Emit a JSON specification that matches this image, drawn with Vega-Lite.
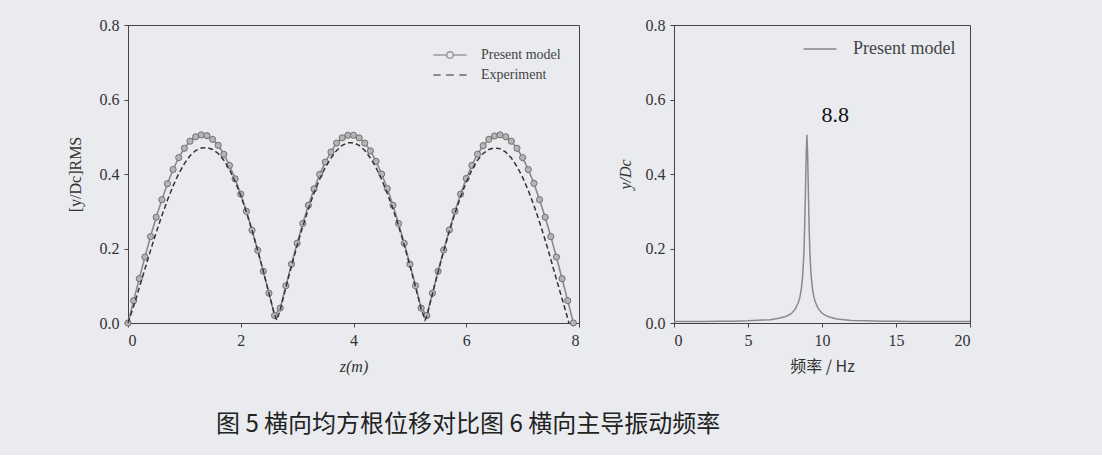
{
  "$schema": "https://vega.github.io/schema/vega-lite/v6.json",
  "background": "#e9ebef",
  "padding": {"left": 66, "top": 16, "right": 130, "bottom": 18},
  "title": {"text": "图 5 横向均方根位移对比图 6 横向主导振动频率", "orient": "bottom", "anchor": "start", "frame": "group", "font": "Noto Sans CJK SC", "fontSize": 24, "fontWeight": "normal", "color": "#222222", "offset": 38, "dx": 88},
  "datasets": {
    "model": [
      {"z": 0.0, "v": 0.0}, {"z": 0.1, "v": 0.06}, {"z": 0.2, "v": 0.119}, {"z": 0.3, "v": 0.177}, {"z": 0.4, "v": 0.232},
      {"z": 0.5, "v": 0.284}, {"z": 0.6, "v": 0.331}, {"z": 0.7, "v": 0.374}, {"z": 0.8, "v": 0.412}, {"z": 0.9, "v": 0.444},
      {"z": 1.0, "v": 0.469}, {"z": 1.1, "v": 0.488}, {"z": 1.2, "v": 0.5}, {"z": 1.3, "v": 0.505}, {"z": 1.4, "v": 0.503},
      {"z": 1.5, "v": 0.493}, {"z": 1.6, "v": 0.477}, {"z": 1.7, "v": 0.453}, {"z": 1.8, "v": 0.423}, {"z": 1.9, "v": 0.387},
      {"z": 2.0, "v": 0.346}, {"z": 2.1, "v": 0.3}, {"z": 2.2, "v": 0.249}, {"z": 2.3, "v": 0.195}, {"z": 2.4, "v": 0.139},
      {"z": 2.5, "v": 0.08}, {"z": 2.6, "v": 0.02}, {"z": 2.7, "v": 0.04}, {"z": 2.8, "v": 0.1}, {"z": 2.9, "v": 0.158},
      {"z": 3.0, "v": 0.214}, {"z": 3.1, "v": 0.267}, {"z": 3.2, "v": 0.316}, {"z": 3.3, "v": 0.36}, {"z": 3.4, "v": 0.399},
      {"z": 3.5, "v": 0.432}, {"z": 3.6, "v": 0.459}, {"z": 3.7, "v": 0.483}, {"z": 3.8, "v": 0.497}, {"z": 3.9, "v": 0.504},
      {"z": 4.0, "v": 0.504}, {"z": 4.1, "v": 0.497}, {"z": 4.2, "v": 0.483}, {"z": 4.3, "v": 0.462}, {"z": 4.4, "v": 0.434},
      {"z": 4.5, "v": 0.4}, {"z": 4.6, "v": 0.361}, {"z": 4.7, "v": 0.316}, {"z": 4.8, "v": 0.267}, {"z": 4.9, "v": 0.214},
      {"z": 5.0, "v": 0.158}, {"z": 5.1, "v": 0.1}, {"z": 5.2, "v": 0.04}, {"z": 5.3, "v": 0.02}, {"z": 5.4, "v": 0.08},
      {"z": 5.5, "v": 0.139}, {"z": 5.6, "v": 0.196}, {"z": 5.7, "v": 0.25}, {"z": 5.8, "v": 0.3}, {"z": 5.9, "v": 0.346},
      {"z": 6.0, "v": 0.388}, {"z": 6.1, "v": 0.423}, {"z": 6.2, "v": 0.453}, {"z": 6.3, "v": 0.476}, {"z": 6.4, "v": 0.493},
      {"z": 6.5, "v": 0.502}, {"z": 6.6, "v": 0.505}, {"z": 6.7, "v": 0.5}, {"z": 6.8, "v": 0.488}, {"z": 6.9, "v": 0.469},
      {"z": 7.0, "v": 0.444}, {"z": 7.1, "v": 0.412}, {"z": 7.2, "v": 0.375}, {"z": 7.3, "v": 0.331}, {"z": 7.4, "v": 0.284},
      {"z": 7.5, "v": 0.232}, {"z": 7.6, "v": 0.177}, {"z": 7.7, "v": 0.119}, {"z": 7.8, "v": 0.06}, {"z": 7.9, "v": 0.0}
    ],
    "exp": [
      {"z": 0.0, "v": 0.0}, {"z": 0.1, "v": 0.045}, {"z": 0.2, "v": 0.095}, {"z": 0.3, "v": 0.145}, {"z": 0.4, "v": 0.195},
      {"z": 0.5, "v": 0.243}, {"z": 0.6, "v": 0.288}, {"z": 0.7, "v": 0.33}, {"z": 0.8, "v": 0.368}, {"z": 0.9, "v": 0.401},
      {"z": 1.0, "v": 0.428}, {"z": 1.1, "v": 0.449}, {"z": 1.2, "v": 0.463}, {"z": 1.3, "v": 0.47}, {"z": 1.4, "v": 0.471},
      {"z": 1.5, "v": 0.466}, {"z": 1.6, "v": 0.455}, {"z": 1.7, "v": 0.437}, {"z": 1.8, "v": 0.412}, {"z": 1.9, "v": 0.38},
      {"z": 2.0, "v": 0.342}, {"z": 2.1, "v": 0.298}, {"z": 2.2, "v": 0.249}, {"z": 2.3, "v": 0.195}, {"z": 2.4, "v": 0.139},
      {"z": 2.5, "v": 0.08}, {"z": 2.6, "v": 0.022}, {"z": 2.64, "v": 0.008}, {"z": 2.7, "v": 0.035}, {"z": 2.8, "v": 0.095},
      {"z": 2.9, "v": 0.153}, {"z": 3.0, "v": 0.208}, {"z": 3.1, "v": 0.259}, {"z": 3.2, "v": 0.306}, {"z": 3.3, "v": 0.349},
      {"z": 3.4, "v": 0.386}, {"z": 3.5, "v": 0.418}, {"z": 3.6, "v": 0.443}, {"z": 3.7, "v": 0.463}, {"z": 3.8, "v": 0.477},
      {"z": 3.9, "v": 0.484}, {"z": 4.0, "v": 0.484}, {"z": 4.1, "v": 0.477}, {"z": 4.2, "v": 0.463}, {"z": 4.3, "v": 0.443},
      {"z": 4.4, "v": 0.417}, {"z": 4.5, "v": 0.385}, {"z": 4.6, "v": 0.348}, {"z": 4.7, "v": 0.306}, {"z": 4.8, "v": 0.26},
      {"z": 4.9, "v": 0.209}, {"z": 5.0, "v": 0.154}, {"z": 5.1, "v": 0.097}, {"z": 5.2, "v": 0.038}, {"z": 5.27, "v": 0.008},
      {"z": 5.3, "v": 0.018}, {"z": 5.4, "v": 0.078}, {"z": 5.5, "v": 0.137}, {"z": 5.6, "v": 0.193}, {"z": 5.7, "v": 0.246},
      {"z": 5.8, "v": 0.295}, {"z": 5.9, "v": 0.339}, {"z": 6.0, "v": 0.378}, {"z": 6.1, "v": 0.411}, {"z": 6.2, "v": 0.437},
      {"z": 6.3, "v": 0.455}, {"z": 6.4, "v": 0.466}, {"z": 6.5, "v": 0.47}, {"z": 6.6, "v": 0.468}, {"z": 6.7, "v": 0.459},
      {"z": 6.8, "v": 0.443}, {"z": 6.9, "v": 0.42}, {"z": 7.0, "v": 0.391}, {"z": 7.1, "v": 0.356}, {"z": 7.2, "v": 0.316},
      {"z": 7.3, "v": 0.271}, {"z": 7.4, "v": 0.223}, {"z": 7.5, "v": 0.171}, {"z": 7.6, "v": 0.117}, {"z": 7.7, "v": 0.065},
      {"z": 7.8, "v": 0.012}, {"z": 7.82, "v": 0.0}
    ],
    "spec": [
      {"f": 0, "v": 0.004}, {"f": 1, "v": 0.004}, {"f": 2, "v": 0.004}, {"f": 3, "v": 0.005}, {"f": 4, "v": 0.005},
      {"f": 5, "v": 0.006}, {"f": 6, "v": 0.008}, {"f": 6.5, "v": 0.009}, {"f": 7, "v": 0.012}, {"f": 7.5, "v": 0.017},
      {"f": 7.8, "v": 0.022}, {"f": 8.0, "v": 0.028}, {"f": 8.2, "v": 0.038}, {"f": 8.4, "v": 0.055}, {"f": 8.5, "v": 0.068},
      {"f": 8.6, "v": 0.09}, {"f": 8.7, "v": 0.13}, {"f": 8.78, "v": 0.19}, {"f": 8.83, "v": 0.26}, {"f": 8.88, "v": 0.35},
      {"f": 8.93, "v": 0.45}, {"f": 8.98, "v": 0.505}, {"f": 9.03, "v": 0.45}, {"f": 9.08, "v": 0.35}, {"f": 9.13, "v": 0.26},
      {"f": 9.18, "v": 0.19}, {"f": 9.26, "v": 0.13}, {"f": 9.36, "v": 0.09}, {"f": 9.46, "v": 0.068}, {"f": 9.56, "v": 0.055},
      {"f": 9.76, "v": 0.038}, {"f": 9.96, "v": 0.028}, {"f": 10.2, "v": 0.021}, {"f": 10.5, "v": 0.016}, {"f": 11, "v": 0.011},
      {"f": 11.5, "v": 0.009}, {"f": 12, "v": 0.007}, {"f": 13, "v": 0.006}, {"f": 14, "v": 0.005}, {"f": 15, "v": 0.005},
      {"f": 16, "v": 0.004}, {"f": 18, "v": 0.004}, {"f": 20, "v": 0.004}
    ],
    "peaklabel": [{"f": 10.9, "v": 0.558, "label": "8.8"}]
  },
  "spacing": 36,
  "resolve": {"scale": {"x": "independent", "y": "independent", "color": "independent", "shape": "independent"}, "legend": {"color": "independent", "shape": "independent"}},
  "hconcat": [
    {
      "width": 451,
      "height": 298,
      "layer": [
        {
          "data": {"name": "model"},
          "mark": {"type": "line", "color": "#8a8a8a", "strokeWidth": 1.6},
          "encoding": {
            "x": {"field": "z", "type": "quantitative", "scale": {"domain": [0, 8]}, "axis": {"values": [0, 2, 4, 6, 8], "format": "d", "title": "z(m)", "titleFontStyle": "italic"}},
            "y": {"field": "v", "type": "quantitative", "scale": {"domain": [0, 0.8]}, "axis": {"values": [0, 0.2, 0.4, 0.6, 0.8], "format": ".1f", "title": "[y/Dc]RMS", "titlePadding": 16}}
          }
        },
        {
          "data": {"name": "model"},
          "mark": {"type": "point", "shape": "circle", "size": 38, "filled": true, "fill": "#b5b5b5", "stroke": "#707070", "strokeWidth": 1, "opacity": 1},
          "encoding": {
            "x": {"field": "z", "type": "quantitative"},
            "y": {"field": "v", "type": "quantitative"}
          }
        },
        {
          "data": {"name": "exp"},
          "mark": {"type": "line", "color": "#333333", "strokeWidth": 1.5, "strokeDash": [5, 3]},
          "encoding": {
            "x": {"field": "z", "type": "quantitative"},
            "y": {"field": "v", "type": "quantitative"}
          }
        },
        {
          "data": {"name": "model"},
          "transform": [{"filter": "datum.z < 0"}],
          "mark": {"type": "point", "filled": false, "strokeWidth": 1.5},
          "encoding": {
            "x": {"field": "z", "type": "quantitative"},
            "y": {"field": "v", "type": "quantitative"},
            "shape": {"field": "series", "type": "nominal", "scale": {"domain": ["Present model", "Experiment"], "range": ["M-1.5,0H-0.3M0.3,0H1.5M-0.3,0A0.3,0.3,0,1,1,0.3,0A0.3,0.3,0,1,1,-0.3,0Z", "M-1.5,0H-0.85M-0.35,0H0.35M0.85,0H1.5"]}, "legend": {"title": null, "orient": "top-right", "offset": 18, "symbolSize": 484, "labelOffset": 19, "rowPadding": 1, "labelFont": "Liberation Serif", "labelFontSize": 14, "labelColor": "#444444", "symbolStrokeWidth": 1.5, "symbolFillColor": "#b5b5b5"}},
            "color": {"field": "series", "type": "nominal", "scale": {"domain": ["Present model", "Experiment"], "range": ["#7a7a7a", "#333333"]}, "legend": {"title": null, "orient": "top-right", "offset": 18, "symbolSize": 484, "labelOffset": 19, "rowPadding": 1, "labelFont": "Liberation Serif", "labelFontSize": 14, "labelColor": "#444444", "symbolStrokeWidth": 1.5, "symbolFillColor": "#b5b5b5"}}
          }
        }
      ]
    },
    {
      "width": 296,
      "height": 298,
      "layer": [
        {
          "data": {"name": "spec"},
          "mark": {"type": "line", "strokeWidth": 1.5},
          "encoding": {
            "x": {"field": "f", "type": "quantitative", "scale": {"domain": [0, 20]}, "axis": {"values": [0, 5, 10, 15, 20], "format": "d", "title": "频率 / Hz", "titleFont": "Noto Sans CJK SC"}},
            "y": {"field": "v", "type": "quantitative", "scale": {"domain": [0, 0.8]}, "axis": {"values": [0, 0.2, 0.4, 0.6, 0.8], "format": ".1f", "title": "y/Dc", "titleFontStyle": "italic", "titlePadding": 12}},
            "color": {"datum": "Present model", "type": "nominal", "scale": {"range": ["#8a8a8a"]}, "legend": {"title": null, "orient": "top-right", "offset": 14, "symbolType": "M-1.83,0H1.83", "symbolSize": 324, "symbolStrokeWidth": 1.5, "labelOffset": 23, "labelFont": "Liberation Serif", "labelFontSize": 18, "labelColor": "#444444"}}
          }
        },
        {
          "data": {"name": "peaklabel"},
          "mark": {"type": "text", "font": "Liberation Serif", "fontSize": 22, "color": "#111111"},
          "encoding": {
            "x": {"field": "f", "type": "quantitative"},
            "y": {"field": "v", "type": "quantitative"},
            "text": {"field": "label"}
          }
        }
      ]
    }
  ],
  "config": {
    "view": {"stroke": "#444444", "strokeWidth": 1},
    "axis": {"grid": false, "labelFont": "Liberation Serif", "labelFontSize": 16, "labelColor": "#333333", "titleFont": "Liberation Serif", "titleFontSize": 16, "titleFontWeight": "normal", "titleColor": "#333333", "domainColor": "#444444", "tickColor": "#444444", "tickSize": 4, "labelPadding": 5, "titlePadding": 10}
  }
}
